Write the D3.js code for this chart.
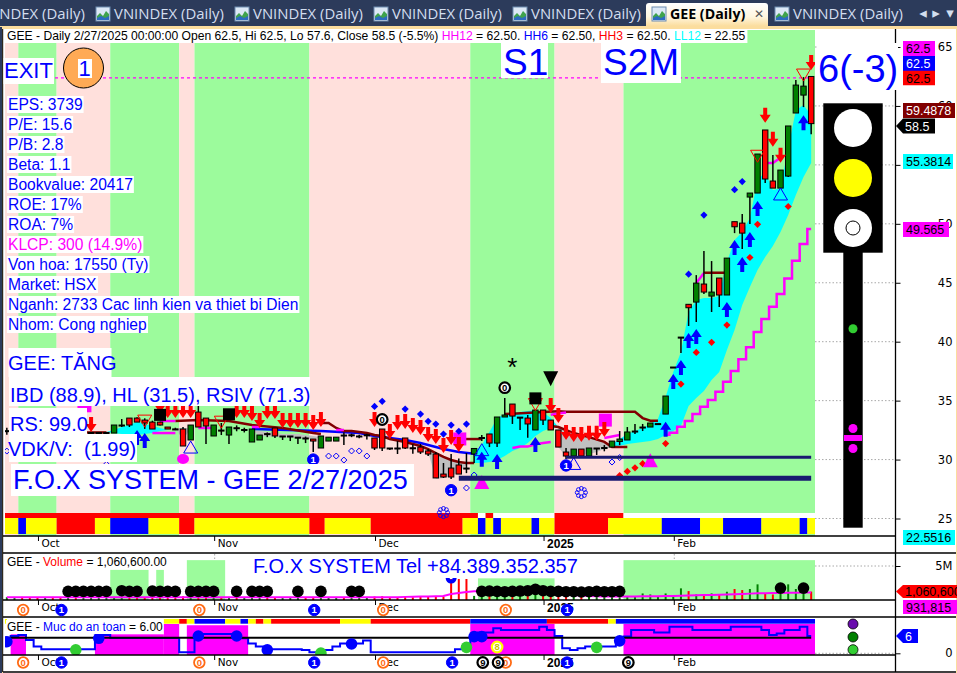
<!DOCTYPE html>
<html><head><meta charset="utf-8">
<script src="https://cdn.jsdelivr.net/npm/d3@7"></script>
<style>html,body{margin:0;padding:0;background:#fff;overflow:hidden}svg{display:block}</style>
</head><body><svg id="c" width="957" height="673"></svg>
<script>
// ---------- data (index = trading session, last one = 2/27/2025) ----------
const sessions = d3.range(106);
const opens = [32.4,32.5,32.6,32.5,32.3,32.2,32.4,32.3,32,32.3,32.2,32.3,32.3,32.3,32.25,32.93,33.52,33.52,33.35,33.18,33.18,32.76,32.6,32.59,31.66,34.03,33.52,32,32.5,32.08,32.7,32.5,31.49,31.66,32.2,32.68,32,32,31.9,31.83,31.74,30.98,31.57,31.57,32.08,32.1,32,32.1,31.83,32.59,30.98,30.98,31.83,31,31.06,30.73,30.47,28.77,29.28,29.54,29.28,30.47,31.87,32.17,31.4,33.61,34.71,33.6,33.52,32.51,34.2,33.35,32.51,30.64,30.3,30.89,30.3,30.98,31,31.06,31.53,31.66,32.42,32.76,32.76,33.05,33.86,37.85,40.39,43.17,43.36,44.89,43.87,45.4,43.96,50.18,50.06,52.27,52.61,57.96,53.63,53.03,54.05,59.4,60.92,62.5];
const highs = [32.7,32.8,32.9,32.7,32.6,32.5,32.7,32.5,32.4,32.6,32.5,32.3,32.3,32.3,32.93,33.44,33.52,33.6,33.5,33.3,33.2,32.76,32.7,32.76,32.93,34.63,33.52,32.93,33.1,32.76,32.9,32.7,32.59,32.08,32.3,32.68,32,32,31.9,31.95,31.74,32,31.9,31.9,32.3,32.2,32.1,32.2,31.83,32.59,30.98,31.57,31.83,31.3,31.32,30.9,30.64,29.71,30.47,30.1,30.55,30.94,32.08,32.17,33.61,35.22,34.71,33.6,33.78,34.2,34.2,33.35,32.51,30.98,30.89,30.89,30.98,30.98,31.23,31.57,32.42,32.76,33.02,33.02,33.1,33.05,35.39,37.85,40.39,43.17,45.65,47.69,46.84,45.4,47.09,50.18,50.83,52.61,55.92,57.96,55.83,54.56,58.3,62.19,62.45,62.5];
const lows = [32.1,32.3,32.4,32.2,32,31.9,32.2,31.8,31.7,32,31.9,32.1,32,32,32.25,32.76,32.76,33.2,32.6,32.59,32.9,32.59,32.5,31.15,31.66,32.76,31.32,32,32.08,31.32,32.4,32.3,31.49,31.66,31.9,31.83,31.66,31.57,31.32,31.4,30.64,30.98,31.57,31.57,31.23,31.9,31.8,31.7,30.81,30.73,30.81,30.47,30.9,30.5,30.47,30.3,28.44,28.44,28.35,28.77,28.85,29.71,31.57,31.06,31.06,33.61,33.02,32.5,31.85,32.51,32.93,32.51,31.06,30.05,30.3,30.3,30.3,30.39,30.7,31.06,31.23,31.66,32.17,32.42,32.76,33.05,33.86,37.85,39.04,41.33,41.67,44.04,42.52,42.94,43.96,49.21,47.86,49.98,52.61,53.46,53.03,53.03,53.97,59.4,59.9,57.6];
const closes = [32.45,32.6,32.5,32.3,32.2,32.4,32.3,32,32.3,32.2,32.3,32.3,32.3,32.3,32.93,32.93,32.93,33.18,33.1,32.59,32.93,32.59,32.55,31.15,32.93,32.76,32.85,32.93,32.45,32.76,32.65,32.55,32.59,32.08,32.15,32,32,32,31.9,31.8,31.57,32,31.9,31.9,32.05,32.1,32,32.1,30.98,30.98,30.95,30.95,30.98,30.95,30.64,30.47,28.44,28.52,28.52,28.77,29.25,30.94,31.87,31.4,33.61,33.78,33.69,33.6,33.02,34.2,33.35,32.51,31.06,30.3,30.89,30.3,30.98,30.98,31.02,31.57,31.74,32.34,32.42,32.76,33.1,33.05,35.39,37.85,40.39,42.88,44.97,44.21,44.21,43.96,47.09,49.75,49.21,52.61,55.92,53.8,53.03,54.56,58.3,61.77,61.68,58.5];
const volumes = [.2,.15,.25,.2,.15,.2,.25,.15,.2,.2,.15,.25,.3,.2,.25,.3,.2,.15,.2,.25,.2,.15,.2,.35,.25,.3,.2,.15,.2,.25,.2,.15,.2,.2,.25,.15,.2,.15,.2,.15,.25,.2,.15,.2,.15,.2,.25,.2,.3,.35,.2,.2,.25,.2,.3,.25,.35,.3,3,3,3,.4,.4,.6,.4,.5,.3,.5,.4,1,.5,.5,.4,.3,.3,.35,.3,.25,.3,.3,.3,.25,.3,.78,.62,.3,.78,.4,1.56,1.14,.62,.62,.78,.62,1.04,1.46,1.3,1.46,2.18,.78,.62,.8,2.18,1.46,.9,1.06];
const volumeAvg = [.2,.2,.2,.2,.2,.2,.2,.2,.2,.2,.2,.2,.2,.2,.2,.2,.2,.2,.2,.2,.2,.2,.2,.2,.2,.2,.2,.2,.2,.2,.2,.2,.2,.2,.2,.2,.2,.2,.2,.2,.2,.2,.2,.2,.2,.2,.2,.2,.2,.2,.2,.2,.25,.27,.3,.32,.35,.38,.7,.85,1,1.1,1.1,1.1,1.05,1,1,1,1,.95,.9,.8,.7,.6,.5,.45,.4,.35,.32,.3,.3,.3,.32,.33,.34,.35,.38,.4,.43,.46,.49,.52,.55,.58,.62,.66,.7,.75,.8,.82,.84,.86,.88,.9,.92,.93];
const safety = [4.1,6.1,6.5,4.7,2.4,1.4,1.4,1.4,1.4,1.4,1.4,1.4,5.3,6.5,5.4,5.4,5.4,5.4,5.4,5.4,5.4,5.4,5.4,.35,.35,6.1,6.8,6.8,6.8,6.8,6.5,5.3,3.5,2.4,1.4,1.4,1.4,1.4,1.4,1.2,.35,.35,1.2,2.4,3.5,3.5,3.5,4.5,.35,.35,.35,.35,.35,.35,.35,.35,.35,.35,.35,1.4,2.4,6.1,7.3,7.3,8.8,8.2,8.2,8.2,8.2,8.2,9.4,8.2,6.1,1.8,1.2,1.8,2.4,2.4,2.4,2.4,4.1,5.9,8.2,8.2,8.2,7.3,7.3,9.4,9.4,9.4,8.2,8.2,8.2,8.2,8.2,9.4,9.4,9.4,9.4,8.2,6.5,7,8.2,8.2,9.4,6.1];

const stripes = [["p",0,2],["g",2,7],["p",7,14],["g",14,23],["p",23,25],["g",25,40],["p",40,61],["g",61,72],["p",72,81],["g",81,106]];
const stripRowTop = [["r",0,62],["w",62,63],["r",63,64],["w",64,72],["r",72,81],["w",81,106]];
const stripRowBottom = [["y",0,2],["b",2,3],["y",3,7],["r",7,12],["y",12,14],["b",14,19],["y",19,23],["r",23,25],["y",25,40],["r",40,42],["y",42,48],["r",48,60],["y",60,62],["b",62,63],["y",63,64],["b",64,65],["y",65,69],["b",69,70],["y",70,72],["r",72,79],["y",79,86],["b",86,91],["y",91,94],["b",94,99],["y",99,104],["b",104,105],["y",105,106]];
const safetyRow = [["y",21,23],["r",23,24],["y",24,25],["b",25,29],["y",29,31],["b",31,32],["y",32,33],["r",33,34],["y",34,35],["r",35,44],["y",44,48],["r",48,61],["b",61,71],["r",71,79],["y",79,80],["b",80,106]];
const safetyFill = [[1,3,6.7],[12,21,6.7],[21,23,10.35],[24,32,9.9],[61,72,10.35],[81,106,10.35]];
const volumeBands = [[14,19,4.4],[20,21,4.4],[24,29,5.9],[62,72,3.1],[81,106,5.9]];
const volumeDots = [[8,1.09],[9,1.09],[10,1.09],[11,1.09],[12,1.09],[13,1.09],[15,1.2],[16,1.09],[17,1.09],[19,1.15],[20,1.09],[21,1.09],[22,1.09],[24,1.09],[25,1.09],[26,1.09],[27,1.09],[30,1.09],[32,1.09],[33,1.09],[34,1.09],[38,1.09],[41,1.09],[45,1.09],[46,1.09],[62,1.1],[63,1.15],[64,1.1],[65,1.05],[66,1.1],[67,1.15],[68,1.2],[69,1.4],[70,1.2],[71,1.1],[72,1.1],[73,1.05],[74,1.05],[75,1],[76,1.05],[77,1.1],[78,1.05],[79,1.05],[80,1.1],[101,1.6],[104,1.6]];
const safetyBlueDots = [[0,4.1],[12,5.3],[25,6.1],[30,6.1],[34,1.2],[45,3.3],[61,5.9],[62,5.9],[80,4.4]];
const safetyGreenDots = [[9,1.2],[41,.1],[60,2.1],[77,2.1]];

const darkLines = [
 [[10,32.3],[11,32.3],[12,32.3],[13,32.3]],
 [[22,33.27],[25,33.35],[29,33.27],[32,32.93],[36,32.68],[40,32.25],[41,32.17]],
 [[41,33.1],[42,33.1],[43,32.68],[44,32.42],[45,32.42],[46,32.34],[47,32.25],[48,32.08],[49,32],[50,31.74],[52,31.49],[54,31.15],[55,30.89],[56,30.55],[57,30.22],[58,29.96],[59,29.79],[60,29.71],[61,29.71]],
 [[59,31.74],[60,31.74],[61,31.74],[62,31.74]],
 [[65,33.86],[70,34.03],[72,34.1],[73,34.06],[82,34.06],[83,33.52],[84,33.3],[85,33.3]],
 [[71,32.85],[72,32.76],[74,32.25],[76,31.9],[78,31.5],[79,31.06],[81,31.06]],
 [[91,45.85],[94,45.85]]
];
const blueLines = [[[32,32.59],[41,32.42],[46,32.25],[48,32],[52,31.66],[54,31.4],[57,30.89],[59,30.64],[61,30.5]]];
const magentaLines = [
 [[19,32.25],[22,32.25]],[[20,33.27],[22,33.27]],[[25,32.68],[27,32.68]],[[32,32.76],[33,32.76]],[[43,32.51],[44,32.51]],
 [[66,30.98],[67,31.1],[68,31.1],[69,31.3],[70,31.4],[71,31.49]],
 [[71,33.8],[72,33.9],[73,34]],[[78,31.83],[79,31.95],[80,32.08]],
 [[99,55.15],[100,55.15],[101,55.6]],[[90,44.97],[91,45.82]]
];
const stepLine = [[86,32.1],[87,32.28],[88,32.79],[89,33.27],[90,33.86],[91,34.48],[92,35.05],[93,35.75],[94,36.6],[95,37.51],[96,38.5],[97,39.52],[98,40.82],[99,41.92],[100,42.96],[101,44.04],[102,45.37],[103,46.87],[104,48.28],[105,49.57]];
const cyanAreas = [
 [[13,32.34,32.34],[14,32.51,32.25],[15,32.76,32.17],[16,32.93,32.08],[17,33.18,32.08],[18,33.02,32.17],[19,32.85,32.25],[20,32.68,32.42],[21,32.51,32.51]],
 [[61,30.64,29.71],[62,31.23,29.71],[63,32.34,29.79],[64,33.52,29.96],[65,33.86,30.3],[66,33.95,30.73],[67,34.03,30.98],[68,34.12,31.4],[69,34.2,32],[70,34.03,32.42],[71,33.52,32.68],[72,32.76,32.76]],
 [[78,31.06,31.06],[79,31.32,31.06],[80,31.74,31.15],[81,32.17,31.32],[82,32.42,31.4],[83,32.68,31.49],[84,33.02,31.57],[85,33.44,31.74],[86,35.31,32.08],[87,37.43,32.42],[88,39.12,32.85],[89,42.51,34.54],[90,43.53,35.22],[91,43.7,35.81],[92,43.7,36.75],[93,43.87,37.43],[94,46.76,39.29],[95,48.62,40.99],[96,49.3,43.11],[97,50.49,44.63],[98,53.71,46.08],[99,54.39,47.18],[100,52.86,48.11],[101,53.03,49.3],[102,56.43,50.74],[103,59.64,52.44],[104,60.07,53.97],[105,59.22,55.15]]
];
const grayAreas = [
 [[22,32.68,32.68],[23,32.68,31.66],[24,32.68,32.68]],
 [[32,32.51,32.51],[33,32.42,32],[36,32.17,31.9],[38,32.17,31.83],[40,32,31.74],[41,31.9,31.9]],
 [[54,31.15,31.06],[55,30.89,30.64],[56,30.55,28.35],[57,30.22,28.44],[58,29.96,28.6],[59,29.79,28.94],[60,29.71,29.54]],
 [[72,32.76,31.06],[73,32.5,30.22],[74,32.25,30.3],[75,32.1,30.39],[76,31.9,30.47],[77,31.7,30.64],[78,31.5,30.89],[79,31.06,31.06]]
];
const navyLevels = [[73,30.19,3],[59,28.41,5]];
const arrowsDown = [[11,32.34],[20,33.95],[21,33.52],[22,33.52],[23,33.52],[24,33.52],[30,33.52],[31,33.52],[32,33.27],[33,32.68],[34,33.44],[35,33.44],[36,32.68],[37,32.68],[38,32.68],[39,32.68],[40,32.51],[41,32.76],[48,32.76],[50,31.74],[51,32.51],[52,32.59],[53,32.25],[54,32.08],[55,31.49],[56,31.32],[57,30.55],[58,31.23],[59,30.64],[71,33.95],[72,33.1],[73,31.66],[74,31.49],[75,31.49],[76,31.6],[77,31.6],[78,31.91],[99,58.57],[100,56.54],[101,55.18],[105,63.04]];
const arrowsUp = [[17,32.51],[18,32.25],[62,30.67],[64,30.47],[69,31.91],[86,33.21],[87,37.26],[88,38.44],[89,40.73],[90,41.07],[94,43.36],[95,48.62],[96,47.18],[97,49.3],[98,51.93],[104,59.22]];
const blueDiamonds = [[48,34.51],[49,34.94],[52,34.28],[54,33.86],[55,33.24],[56,33.01],[57,32.16],[58,32.93],[59,32.4],[60,33.01],[89,45.73],[91,50.74],[95,52.9],[96,53.58]];
const redDiamonds = [[80,28.65],[81,28.99],[82,29.3],[83,29.65],[84,30.02],[86,31.36],[88,36.4],[90,39.09],[92,39.95],[94,41.41],[97,47.14],[98,49.96],[102,51.47]];
const hollowDiamonds = [[0,30.72],[13,29.6],[42,30.3],[43,30.3],[44,29.96],[45,30.73],[46,30.73],[47,30.3],[60,27.59],[61,28.69],[79,29.79],[80,30.17]];
const trianglesDown = [[18,33.77],[28,33.68],[69,35.18],[98,56.24],[104,63.13]];
const trianglesUp = [[24,31.57],[62,31.35],[74,30.18],[101,53.04]];
const magentaTriangles = [[62,28.7],[84,30.53]];
const magentaSquares = [[10,35.2,14],[59,32.3,13],[78,33.9,13]];
const blackSquares = [[20,34.3,12],[29,34.35,12],[69,35.7,12]];
const blackTriangles = [[71,37.5]];
const ringZeros = [[49,33.4],[65,36.1]];
const chartOnes = [[40,30],[58,27.4],[73,29.5]];
const snowflakes = [[57,25.5],[75,27.2]];
const stars = [[66,37.9]];
const magentaDots = [[23,30.05]];
const axisTicks = [[4,"Oct"],[27,"Nov"],[48,"Dec"],[70,"2025"],[87,"Feb"]];
const priceTicks = [25,30,35,40,45,50,55,60,65];
const row2Badges = [[2,"0"],[7,"1"],[25,"0"],[40,"1"],[49,"0"],[65,"0"],[73,"1"]];
const row3Badges = [[2,"0"],[7,"1"],[25,"0"],[40,"1"],[49,"0"],[58,"1"],[62,"9"],[65,"0"],[64,"9"],[73,"1"],[81,"9"]];
const statLines = ["EPS: 3739","P/E: 15.6","P/B: 2.8","Beta: 1.1","Bookvalue: 20417","ROE: 17%","ROA: 7%","KLCP: 300 (14.9%)","Von hoa: 17550 (Ty)","Market: HSX","Nganh: 2733 Cac linh kien va thiet bi Dien","Nhom: Cong nghiep"];
const tabTexts = [[-25,"VNINDEX (Daily)"],[114,"VNINDEX (Daily)"],[253,"VNINDEX (Daily)"],[392,"VNINDEX (Daily)"],[531,"VNINDEX (Daily)"],[793,"VNINDEX (Daily)"]];
const tabIcons = [96,235,374,513,652,775];

// ---------- scales ----------
const svg = d3.select("#c");
const F = "'Liberation Sans',Arial,sans-serif";
const PINK="#FFE0DC", GREEN="#9CFB9C", CYAN="#00FFFF", MAG="#FF00FF", BLUE="#0000FF", RED="#FF0000", YEL="#FFFF00", DRED="#800000", NAVY="#191970";
const stateColor = {p:PINK,g:GREEN,r:RED,y:YEL,b:BLUE,w:"#fff"};
const x = d3.scaleBand().domain(sessions).range([3,815]);
const bw = x.bandwidth();
const cx = i => x(i)+bw/2;
const edge = i => i>=sessions.length ? 815 : x(i);
const y = d3.scaleLinear().domain([25,65]).range([518.5,47]);
const yVol = d3.scaleLinear().domain([0,5]).range([598.5,566]);
const ySafe = d3.scaleLinear().domain([0,6]).range([653.3,636.3]);

// ---------- window chrome ----------
svg.append("rect").attr("width",957).attr("height",27).attr("fill","#2C3B5B");
const defs = svg.append("defs");
const tg = defs.append("linearGradient").attr("id","tabg").attr("x1",0).attr("x2",0).attr("y1",0).attr("y2",1);
tg.append("stop").attr("offset","0%").attr("stop-color","#FFFFFF");
tg.append("stop").attr("offset","60%").attr("stop-color","#FFF6DF");
tg.append("stop").attr("offset","100%").attr("stop-color","#FBDD9E");
defs.append("clipPath").attr("id","mainclip").append("rect").attr("x",5).attr("y",30).attr("width",810).attr("height",506);
defs.append("clipPath").attr("id","volclip").append("rect").attr("x",5).attr("y",555).attr("width",810).attr("height",45);
defs.append("clipPath").attr("id","safeclip").append("rect").attr("x",5).attr("y",618).attr("width",810).attr("height",37);
svg.append("rect").attr("x",0).attr("y",26).attr("width",957).attr("height",647).attr("fill","#FBDD9E");
svg.append("rect").attr("x",0).attr("y",27).attr("width",2).attr("height",646).attr("fill","#2C3B5B");
svg.append("rect").attr("x",3).attr("y",29).attr("width",953).attr("height",644).attr("fill","#fff");
svg.append("path").attr("d","M646 26V6Q646 3 649 3H765Q768 3 768 6V26Z").attr("fill","url(#tabg)");
tabTexts.forEach(t=>svg.append("text").attr("x",t[0]).attr("y",19).attr("font-family","'Open Sans',sans-serif").attr("font-size",14.9).attr("fill","#D3DEEF").text(t[1]));
svg.append("text").attr("x",670).attr("y",19).attr("font-family","'Open Sans',sans-serif").attr("font-weight",700).attr("font-size",14.2).attr("fill","#000").text("GEE (Daily)");
svg.append("text").attr("x",754).attr("y",18).attr("font-family","'DejaVu Sans'").attr("font-size",12).attr("fill","#555").text("✕");
tabIcons.forEach(ix=>{
  const g=svg.append("g").attr("transform",`translate(${ix},7)`);
  g.append("rect").attr("width",14).attr("height",14).attr("fill","#DCE8F6").attr("stroke","#6C8CB0");
  g.append("path").attr("d","M1 13V9L4 6L7 9L10 4L13 7V13Z").attr("fill","#3FA34D");
  g.append("path").attr("d","M1 13V11L5 9L9 11L13 9V13Z").attr("fill","#2C6BC0");
});
[[923,"◂"],[936,"▸"],[950,"▾"]].forEach(a=>svg.append("text").attr("x",a[0]).attr("y",18).attr("text-anchor","middle").attr("font-family","'DejaVu Sans'").attr("font-size",15).attr("fill","#D3DEEF").text(a[1]));

// ---------- main pane ----------
const main = svg.append("g").attr("clip-path","url(#mainclip)");
main.selectAll(".st").data(stripes).join("rect").attr("x",d=>edge(d[1])).attr("width",d=>edge(d[2])-edge(d[1])).attr("y",30).attr("height",506).attr("fill",d=>stateColor[d[0]]);
main.selectAll(".s1").data(stripRowTop).join("rect").attr("x",d=>edge(d[1])).attr("width",d=>edge(d[2])-edge(d[1])).attr("y",513).attr("height",5).attr("fill",d=>stateColor[d[0]]);
main.selectAll(".s2").data(stripRowBottom).join("rect").attr("x",d=>edge(d[1])).attr("width",d=>edge(d[2])-edge(d[1])).attr("y",518).attr("height",16).attr("fill",d=>stateColor[d[0]]);

const area = d3.area().x(d=>cx(d[0])).y0(d=>y(d[1])).y1(d=>y(d[2]));
const line = d3.line().x(d=>cx(d[0])).y(d=>y(d[1]));
main.selectAll(".ca").data(cyanAreas).join("path").attr("d",area).attr("fill",CYAN);
main.selectAll(".ga").data(grayAreas).join("path").attr("d",area).attr("fill","#C0C0C0");
main.selectAll(".bl").data(blueLines).join("path").attr("d",line).attr("fill","none").attr("stroke",BLUE).attr("stroke-width",2.5);
main.selectAll(".dl").data(darkLines).join("path").attr("d",line).attr("fill","none").attr("stroke",DRED).attr("stroke-width",2.5);
main.selectAll(".ml").data(magentaLines).join("path").attr("d",line).attr("fill","none").attr("stroke",MAG).attr("stroke-width",2.5);
main.append("path").attr("d",d3.line().x(d=>cx(d[0])).y(d=>y(d[1])).curve(d3.curveStep)(stepLine)).attr("fill","none").attr("stroke",MAG).attr("stroke-width",2.5);
main.append("line").attr("x1",55).attr("x2",cx(105)).attr("y1",y(62.5)+1.5).attr("y2",y(62.5)+1.5).attr("stroke",MAG).attr("stroke-width",1.2).attr("stroke-dasharray","3,3");

// squares under candles
main.selectAll(".ms").data(magentaSquares).join("rect").attr("x",d=>cx(d[0])-d[2]/2+1).attr("y",d=>y(d[1])).attr("width",d=>d[2]).attr("height",d=>d[2]).attr("fill",MAG);

// candles
main.selectAll(".wick").data(sessions).join("line").attr("x1",cx).attr("x2",cx).attr("y1",i=>y(highs[i])).attr("y2",i=>y(lows[i])).attr("stroke","#000").attr("stroke-width",1.5);
main.selectAll(".body").data(sessions).join("rect")
  .attr("x",i=>cx(i)-2.7).attr("width",5.4)
  .attr("y",i=>y(Math.max(opens[i],closes[i])))
  .attr("height",i=>Math.max(1,Math.abs(y(opens[i])-y(closes[i]))))
  .attr("fill",i=>closes[i]>opens[i]?"#008000":(closes[i]<opens[i]?RED:"#000"))
  .attr("stroke","#000").attr("stroke-width",1);

// signal glyphs
main.selectAll(".ad").data(arrowsDown).join("path").attr("transform",d=>`translate(${cx(d[0])},${y(d[1])})`).attr("d","M0 0L-5.5 -8H-2V-15H2V-8H5.5Z").attr("fill",RED);
main.selectAll(".au").data(arrowsUp).join("path").attr("transform",d=>`translate(${cx(d[0])},${y(d[1])})`).attr("d","M0 0L-5.5 8H-2V15H2V8H5.5Z").attr("fill",BLUE);
const rhomb = r => `M0 ${-r}L${r} 0L0 ${r}L${-r} 0Z`;
main.selectAll(".bd").data(blueDiamonds).join("path").attr("transform",d=>`translate(${cx(d[0])},${y(d[1])})`).attr("d",rhomb(3.6)).attr("fill",BLUE);
main.selectAll(".rd").data(redDiamonds).join("path").attr("transform",d=>`translate(${cx(d[0])},${y(d[1])})`).attr("d",rhomb(3.6)).attr("fill",RED);
main.selectAll(".hd").data(hollowDiamonds).join("path").attr("transform",d=>`translate(${cx(d[0])},${y(d[1])})`).attr("d",rhomb(3)).attr("fill","none").attr("stroke",BLUE);
main.selectAll(".td").data(trianglesDown).join("path").attr("transform",d=>`translate(${cx(d[0])},${y(d[1])})`).attr("d","M-7 0H7L0 12Z").attr("fill","none").attr("stroke",RED).attr("stroke-width",1);
main.selectAll(".tu").data(trianglesUp).join("path").attr("transform",d=>`translate(${cx(d[0])},${y(d[1])})`).attr("d","M-7 12H7L0 0Z").attr("fill","none").attr("stroke",BLUE).attr("stroke-width",1);
main.selectAll(".mt").data(magentaTriangles).join("path").attr("transform",d=>`translate(${cx(d[0])},${y(d[1])})`).attr("d","M-7.5 14H7.5L0 0Z").attr("fill",MAG);
main.selectAll(".navy").data(navyLevels).join("line").attr("x1",d=>cx(d[0])).attr("x2",cx(105)).attr("y1",d=>y(d[1])).attr("y2",d=>y(d[1])).attr("stroke",NAVY).attr("stroke-width",d=>d[2]);
main.selectAll(".bs").data(blackSquares).join("rect").attr("x",d=>cx(d[0])-d[2]/2).attr("y",d=>y(d[1])).attr("width",d=>d[2]).attr("height",d=>d[2]).attr("fill","#000");
main.selectAll(".bt").data(blackTriangles).join("path").attr("transform",d=>`translate(${cx(d[0])},${y(d[1])})`).attr("d","M-7.5 0H7.5L0 15Z").attr("fill","#000");
main.selectAll(".mdot").data(magentaDots).join("ellipse").attr("cx",d=>cx(d[0])).attr("cy",d=>y(d[1])).attr("rx",6).attr("ry",5).attr("fill",MAG);
main.selectAll(".star").data(stars).join("text").attr("x",d=>cx(d[0])).attr("y",d=>y(d[1])+10).attr("text-anchor","middle").attr("font-family",F).attr("font-size",26).attr("fill","#000").text("*");
snowflakes.forEach(d=>{
  const g=main.append("g").attr("transform",`translate(${cx(d[0])},${y(d[1])})`);
  d3.range(8).forEach(k=>g.append("circle").attr("cx",4.2*Math.cos(k*Math.PI/4)).attr("cy",4.2*Math.sin(k*Math.PI/4)).attr("r",1.9).attr("fill","none").attr("stroke",BLUE).attr("stroke-width",.9));
});

function badge(parent,px,py,label,style){
  const s={o:["#fff","#FF6A13","#FF6A13",1.8],b:[BLUE,BLUE,"#fff",1],k:["#fff","#000","#000",2.2],y:["#fff",YEL,"#C8C800",2.2]}[style];
  parent.append("circle").attr("cx",px).attr("cy",py).attr("r",style==="b"?5.7:5.3).attr("fill",s[0]).attr("stroke",s[1]).attr("stroke-width",s[3]);
  parent.append("text").attr("x",px).attr("y",py+3.4).attr("text-anchor","middle").attr("font-family",F).attr("font-weight",700).attr("font-size",9.5).attr("fill",s[2]).text(label);
}
ringZeros.forEach(d=>badge(main,cx(d[0]),y(d[1]),"0","k"));
chartOnes.forEach(d=>badge(main,cx(d[0]),y(d[1]),"1","b"));

// ---------- grid and axes on the right ----------
const grid = svg.append("g");
priceTicks.forEach(t=>grid.append("line").attr("x1",815).attr("x2",895).attr("y1",y(t)).attr("y2",y(t)).attr("stroke","#A8A8A8").attr("stroke-dasharray","1.5,2"));
[yVol(5),ySafe(0)].forEach(v=>grid.append("line").attr("x1",815).attr("x2",895).attr("y1",v).attr("y2",v).attr("stroke","#A8A8A8").attr("stroke-dasharray","1.5,2"));
[27,87].forEach(b=>grid.append("line").attr("x1",cx(b)+1).attr("x2",cx(b)+1).attr("y1",554).attr("y2",561).attr("stroke","#A8A8A8").attr("stroke-dasharray","1.5,2"));

function rightAxis(scale,values,fmt){
  const g=svg.append("g").attr("transform","translate(895.5,0)").call(d3.axisRight(scale).tickValues(values).tickSize(5).tickFormat(fmt));
  g.select(".domain").remove();
  g.selectAll("line").attr("stroke","#000");
  g.selectAll("text").attr("x",57).attr("text-anchor","end").attr("font-family","'DejaVu Sans'").attr("font-size",11.5).attr("fill","#000");
}
rightAxis(y,priceTicks,d=>d);
rightAxis(yVol,[5],d=>d+"M");
rightAxis(ySafe,[0],d=>d);

// ---------- volume pane ----------
const vol = svg.append("g").attr("clip-path","url(#volclip)");
vol.selectAll(".vb").data(volumeBands).join("rect").attr("x",d=>edge(d[0])).attr("width",d=>edge(d[1])-edge(d[0])).attr("y",d=>yVol(d[2])).attr("height",d=>600-yVol(d[2])).attr("fill",GREEN);
vol.selectAll(".vbar").data(sessions).join("line").attr("x1",cx).attr("x2",cx).attr("y1",i=>yVol(volumes[i])).attr("y2",600)
  .attr("stroke",i=>closes[i]>=opens[i]?"#008000":RED).attr("stroke-width",2);
vol.append("path").attr("d",d3.line().x(i=>cx(i)).y(i=>yVol(volumeAvg[i]))(sessions)).attr("fill","none").attr("stroke",MAG).attr("stroke-width",2);
vol.selectAll(".vd").data(volumeDots).join("circle").attr("cx",d=>cx(d[0])).attr("cy",d=>yVol(d[1])).attr("r",5.8).attr("fill","#000");
vol.append("path").attr("transform",`translate(${cx(58)},578)`).attr("d",d3.arc().innerRadius(1.5).outerRadius(5.5).startAngle(Math.PI/2).endAngle(Math.PI*1.5)()).attr("fill",BLUE);

// ---------- safety pane ----------
const safe = svg.append("g").attr("clip-path","url(#safeclip)");
safe.selectAll(".sf").data(safetyFill).join("rect").attr("x",d=>edge(d[0])).attr("width",d=>edge(d[1])-edge(d[0])).attr("y",d=>ySafe(d[2])).attr("height",d=>655-ySafe(d[2])).attr("fill",MAG);
safe.selectAll(".sr").data(safetyRow).join("rect").attr("x",d=>edge(d[1])).attr("width",d=>edge(d[2])-edge(d[1])).attr("y",619).attr("height",4.7).attr("fill",d=>stateColor[d[0]]);
safe.append("rect").attr("x",5).attr("y",619).attr("width",2).attr("height",4.7).attr("fill",YEL);
safe.append("path").attr("d",d3.line().x(i=>cx(i)).y(i=>ySafe(safety[i])).curve(d3.curveStep)(sessions)).attr("fill","none").attr("stroke",BLUE).attr("stroke-width",2);
safe.append("line").attr("x1",5).attr("x2",cx(105)).attr("y1",637.7).attr("y2",637.7).attr("stroke","#000").attr("stroke-width",2);
safe.selectAll(".sb").data(safetyBlueDots).join("circle").attr("cx",d=>cx(d[0])).attr("cy",d=>ySafe(d[1])).attr("r",5.8).attr("fill",BLUE);
safe.selectAll(".sg").data(safetyGreenDots).join("circle").attr("cx",d=>cx(d[0])).attr("cy",d=>ySafe(d[1])).attr("r",5.8).attr("fill","#32CD32");
badge(safe,cx(64),647,"8","y");

// ---------- frames ----------
[536,553,600,617,655,672].forEach(v=>svg.append("line").attr("x1",3).attr("x2",[553,617,672].includes(v)?956:895).attr("y1",v).attr("y2",v).attr("stroke","#000").attr("stroke-width",1.3));
svg.append("line").attr("x1",2.7).attr("x2",2.7).attr("y1",29).attr("y2",672).attr("stroke","#000");
svg.append("line").attr("x1",895.5).attr("x2",895.5).attr("y1",29).attr("y2",672).attr("stroke","#000").attr("stroke-width",1.3);

// date axes
[536,600,655].forEach(v=>{
  const g=svg.append("g").attr("transform",`translate(1,${v})`).call(d3.axisBottom(x).tickValues(axisTicks.map(d=>d[0])).tickSize(5).tickFormat(i=>axisTicks.find(d=>d[0]===i)[1]));
  g.select(".domain").remove();
  g.selectAll("line").attr("stroke","#000");
  g.selectAll("text").attr("x",3).attr("y",3.5).attr("text-anchor","start").attr("fill","#000")
   .attr("font-family",d=>d===70?F:"'DejaVu Sans'").attr("font-size",d=>d===70?12:10.5)
   .attr("font-weight",d=>d===70?700:400);
});
const badgeStyle = {"0":"o","1":"b","9":"k"};
row2Badges.forEach(d=>badge(svg,cx(d[0])+1,610,d[1],badgeStyle[d[1]]));
row3Badges.forEach(d=>badge(svg,cx(d[0])+1,662.5,d[1],badgeStyle[d[1]]));

// ---------- traffic light ----------
const tl = svg.append("g");
tl.append("rect").attr("x",823.3).attr("y",103.3).attr("width",59.4).attr("height",149.4).attr("fill","#000");
tl.append("rect").attr("x",843.3).attr("y",252).attr("width",19.4).attr("height",275.7).attr("fill","#000");
tl.append("circle").attr("cx",853).attr("cy",128).attr("r",19).attr("fill","#fff");
tl.append("circle").attr("cx",853).attr("cy",178).attr("r",19).attr("fill",YEL);
tl.append("circle").attr("cx",853).attr("cy",228).attr("r",19).attr("fill","#fff");
tl.append("circle").attr("cx",853).attr("cy",228).attr("r",7).attr("fill","#fff").attr("stroke","#000");
tl.append("circle").attr("cx",853).attr("cy",328.7).attr("r",4.5).attr("fill","#32CD32");
tl.append("circle").attr("cx",853).attr("cy",428.5).attr("r",4.5).attr("fill",MAG);
tl.append("rect").attr("x",844).attr("y",435).attr("width",18).attr("height",6).attr("fill",MAG);
tl.append("circle").attr("cx",853).attr("cy",448.5).attr("r",4.5).attr("fill",MAG);
[["#6A0DAD",624],["#008000",637],["#32CD32",649.7]].forEach(d=>svg.append("circle").attr("cx",853).attr("cy",d[1]).attr("r",5).attr("fill",d[0]).attr("stroke","#000").attr("stroke-width",.8));

// ---------- annotation text on white boxes ----------
function boxed(txt,tx,base,size,color,box){
  const g=svg.append("g");
  const t=g.append("text").attr("x",tx).attr("y",base).attr("font-family",F).attr("font-size",size).attr("fill",color).attr("xml:space","preserve").text(txt);
  const b=t.node().getBBox();
  const r=box||[b.x-1,b.y,b.width+2,b.height];
  g.insert("rect","text").attr("x",r[0]).attr("y",r[1]).attr("width",r[2]).attr("height",r[3]).attr("fill","#fff");
}
// header
const hg=svg.append("g");
const ht=hg.append("text").attr("x",7).attr("y",40).attr("font-family",F).attr("font-size",12.13).attr("fill","#000");
[["GEE - Daily 2/27/2025 00:00:00 Open 62.5, Hi 62.5, Lo 57.6, Close 58.5 (-5.5%) ","#000"],["HH12",MAG],[" = 62.50. ","#000"],["HH6",BLUE],[" = 62.50, ","#000"],["HH3",RED],[" = 62.50. ","#000"],["LL12",CYAN],[" = 22.55","#000"]]
  .forEach(p=>ht.append("tspan").attr("fill",p[1]).attr("xml:space","preserve").text(p[0]));
const hb=ht.node().getBBox();
hg.insert("rect","text").attr("x",5).attr("y",30).attr("width",hb.width+4).attr("height",13).attr("fill","#fff");

boxed("EXIT",4,78,22,BLUE,[3.6,58,50.4,26]);
svg.append("circle").attr("cx",83.5).attr("cy",68).attr("r",20).attr("fill","#FFAA55").attr("stroke","#000").attr("stroke-width",1);
boxed("1",78.5,76,22,BLUE,[78,59,14,19]);
boxed("S1",503,75,37,BLUE,[501,43,47,35]);
boxed("S2M",603,75,37,BLUE,[601,43,80,40]);
svg.append("rect").attr("x",818).attr("y",43).attr("width",80).attr("height",47).attr("fill","#fff");
svg.append("text").attr("x",818).attr("y",82).attr("font-family",F).attr("font-size",38).attr("fill",BLUE).text("6(-3)");
statLines.forEach((s,i)=>boxed(s,8,110+i*20,15.6,s.startsWith("KLCP")?MAG:BLUE,null));
boxed("GEE: TĂNG",8,370,20,BLUE,[8.5,348,103,29]);
boxed("IBD (88.9), HL (31.5), RSIV (71.3)",10,401.5,20,BLUE,[9,377,301,29]);
boxed("RS: 99.0",10,430.5,20,BLUE,[9,408,78,27]);
boxed("VDK/V:  (1.99)",8,456,20,BLUE,[9,434,128,28]);
boxed("F.O.X SYSTEM - GEE 2/27/2025",13,489,27,BLUE,[11,464,403,32]);
svg.append("text").attr("x",253).attr("y",573).attr("font-family",F).attr("font-size",20).attr("fill",BLUE).text("F.O.X SYSTEM Tel +84.389.352.357");

// pane titles
function title(parts,base,box){
  const g=svg.append("g");
  g.append("rect").attr("x",box[0]).attr("y",box[1]).attr("width",box[2]).attr("height",box[3]).attr("fill","#fff");
  const t=g.append("text").attr("x",7).attr("y",base).attr("font-family",F).attr("font-size",12);
  parts.forEach(p=>t.append("tspan").attr("fill",p[1]).attr("xml:space","preserve").text(p[0]));
}
title([["GEE - ","#000"],["Volume",RED],[" = 1,060,600.00","#000"]],565.7,[5,555,165,13]);
title([["GEE - ","#000"],["Muc do an toan",BLUE],[" = 6.00","#000"]],631,[6,620,157,14]);

// ---------- value tags on the right ----------
function tag(txt,x0,x1,yc,h,fill,color,pointer){
  const top=yc-h/2,bot=yc+h/2;
  const d=pointer?`M896 ${yc}L${x0} ${top}H${x1}V${bot}H${x0}Z`:`M${x0} ${top}H${x1}V${bot}H${x0}Z`;
  svg.append("path").attr("d",d).attr("fill",fill);
  svg.append("text").attr("x",x0+(pointer?2:3)).attr("y",yc+4.5).attr("font-family",F).attr("font-size",12.5).attr("fill",color).text(txt);
}
tag("62.5",903,935,48.5,15,MAG,"#000");
tag("62.5",903,935,63.5,15,BLUE,"#fff");
tag("62.5",903,935,78,14.5,RED,"#000");
tag("59.4878",903,955,110.5,15,DRED,"#fff");
tag(closes[105].toFixed(1),903,935,126,15,"#000","#fff",true);
tag("55.3814",903,953,161.5,15,CYAN,"#000");
tag("49.565",903,949,229.5,15,MAG,"#000");
tag("22.5516",903,955,537.5,15,CYAN,"#000");
tag("1,060,600",903,957,591.5,13,RED,"#000",true);
tag("931,815",903,957,607,14,MAG,"#000");
tag("6",903,918,636,14,BLUE,"#fff",true);
</script></body></html>
